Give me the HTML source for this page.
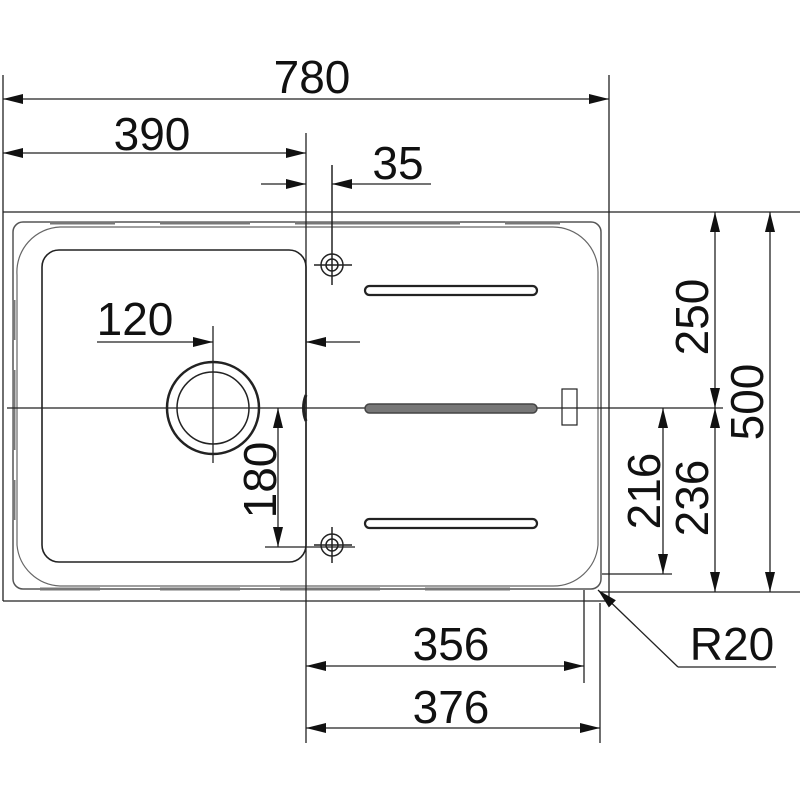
<!DOCTYPE html>
<html><head><meta charset="utf-8"><style>
html,body{margin:0;padding:0;background:#fff;}
svg{display:block;}
text{font-family:"Liberation Sans",Arial,sans-serif;font-size:46px;fill:#111;}
</style></head><body>
<svg width="800" height="800" viewBox="0 0 800 800" xmlns="http://www.w3.org/2000/svg">
<defs>
<marker id="a" viewBox="0 0 20 10" refX="20" refY="5" markerWidth="20" markerHeight="10" markerUnits="userSpaceOnUse" orient="auto-start-reverse">
<path d="M0,0 L20,5 L0,10 Z" fill="#111"/></marker>
</defs>
<g stroke="#222" stroke-width="1.3" fill="none">
<!-- frame -->
<line x1="3" y1="212" x2="800" y2="212"/>
<line x1="3" y1="75" x2="3" y2="601"/>
<line x1="609" y1="75" x2="609" y2="601"/>
<line x1="3" y1="601" x2="609" y2="601"/>
<line x1="600" y1="592" x2="800" y2="592"/>
<!-- rim -->
<rect x="13" y="222" width="588" height="367" rx="10" stroke="#555" stroke-width="1.5"/>
<path d="M17,275 A45,45 0 0 1 60,227 L553,227 A45,45 0 0 1 598,272 L598,545 A45,45 0 0 1 553,586 L60,586 A45,45 0 0 1 17,545 Z" stroke="#666" stroke-width="1.2"/>
<g stroke="#777" stroke-width="3">
<line x1="50" y1="223" x2="115" y2="223"/><line x1="160" y1="223" x2="250" y2="223"/><line x1="295" y1="223" x2="460" y2="223"/><line x1="505" y1="223" x2="560" y2="223"/>
<line x1="40" y1="589" x2="100" y2="589"/><line x1="160" y1="589" x2="240" y2="589"/><line x1="280" y1="589" x2="380" y2="589"/><line x1="425" y1="589" x2="510" y2="589"/>
<line x1="14" y1="300" x2="14" y2="340"/><line x1="14" y1="370" x2="14" y2="450"/><line x1="14" y1="480" x2="14" y2="520"/>
</g>
<!-- bowl -->
<rect x="42" y="250" width="264" height="312" rx="17" stroke-width="1.6"/>
<path d="M306,395 Q301,408 306,421" stroke-width="3"/>
<!-- waste -->
<circle cx="213" cy="408" r="46" stroke-width="2.5"/>
<circle cx="213" cy="408" r="36" stroke-width="1.5"/>
<line x1="213" y1="326" x2="213" y2="463"/>
<!-- centre line -->
<line x1="7" y1="408" x2="723" y2="408"/>
<!-- tap holes -->
<g stroke-width="1.5">
<circle cx="332" cy="265" r="11"/><circle cx="332" cy="265" r="6"/>
<circle cx="332" cy="545" r="11"/><circle cx="332" cy="545" r="6"/>
<line x1="314" y1="265" x2="352" y2="265"/><line x1="332" y1="165" x2="332" y2="285"/>
<line x1="314" y1="545" x2="352" y2="545"/><line x1="332" y1="527" x2="332" y2="563"/>
</g>
<!-- slots -->
<rect x="365" y="286" width="172" height="9" rx="4.5" stroke-width="2.2"/>
<rect x="365" y="404" width="172" height="9" rx="4.5" fill="#777" stroke="#444" stroke-width="1.5"/>
<rect x="365" y="519" width="172" height="9" rx="4.5" stroke-width="2.2"/>
<rect x="562" y="389" width="15" height="36" stroke-width="1.2"/>
<!-- dims top -->
<line x1="3" y1="99" x2="609" y2="99" marker-start="url(#a)" marker-end="url(#a)"/>
<line x1="3" y1="153" x2="306" y2="153" marker-start="url(#a)" marker-end="url(#a)"/>
<line x1="306" y1="133" x2="306" y2="743"/>
<line x1="261" y1="184" x2="306" y2="184" marker-end="url(#a)"/>
<line x1="431" y1="184" x2="332" y2="184" marker-end="url(#a)"/>
<!-- 120 -->
<line x1="97" y1="342" x2="213" y2="342" marker-end="url(#a)"/>
<line x1="360" y1="342" x2="306" y2="342" marker-end="url(#a)"/>
<!-- 180 -->
<line x1="278" y1="408" x2="278" y2="547" marker-start="url(#a)" marker-end="url(#a)"/>
<line x1="265" y1="547" x2="355" y2="547"/>
<!-- right dims -->
<line x1="715" y1="212" x2="715" y2="408" marker-start="url(#a)" marker-end="url(#a)"/>
<line x1="715" y1="408" x2="715" y2="592" marker-start="url(#a)" marker-end="url(#a)"/>
<line x1="770" y1="212" x2="770" y2="592" marker-start="url(#a)" marker-end="url(#a)"/>
<line x1="663" y1="408" x2="663" y2="574" marker-start="url(#a)" marker-end="url(#a)"/>
<line x1="602" y1="574" x2="672" y2="574"/>
<!-- bottom dims -->
<line x1="584" y1="590" x2="584" y2="683"/>
<line x1="600" y1="603" x2="600" y2="743"/>
<line x1="306" y1="666" x2="584" y2="666" marker-start="url(#a)" marker-end="url(#a)"/>
<line x1="306" y1="728" x2="600" y2="728" marker-start="url(#a)" marker-end="url(#a)"/>
<!-- R20 -->
<line x1="678" y1="667" x2="598" y2="590" marker-end="url(#a)"/>
<line x1="678" y1="667" x2="776" y2="667"/>
</g>
<text x="312" y="93" text-anchor="middle">780</text>
<text x="152" y="150" text-anchor="middle">390</text>
<text x="398" y="179" text-anchor="middle">35</text>
<text x="135" y="335" text-anchor="middle">120</text>
<text x="451" y="660" text-anchor="middle">356</text>
<text x="451" y="723" text-anchor="middle">376</text>
<text x="732" y="660" text-anchor="middle">R20</text>
<text transform="translate(276,480) rotate(-90)" text-anchor="middle">180</text>
<text transform="translate(708,317) rotate(-90)" text-anchor="middle">250</text>
<text transform="translate(763,402) rotate(-90)" text-anchor="middle">500</text>
<text transform="translate(660,491) rotate(-90)" text-anchor="middle">216</text>
<text transform="translate(708,498) rotate(-90)" text-anchor="middle">236</text>
</svg>
</body></html>
